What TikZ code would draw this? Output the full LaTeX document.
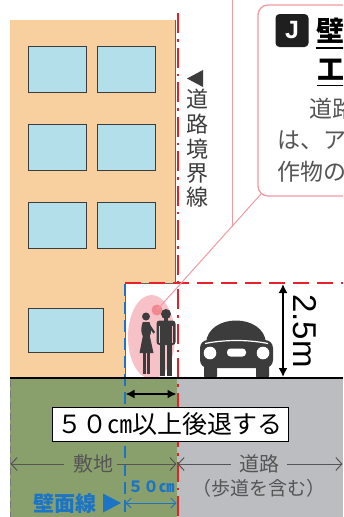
\documentclass[tikz,border=0pt]{standalone}
\usepackage{fontspec}
\setmainfont{Liberation Sans}
\newfontfamily\jp{Noto Sans CJK JP}
\usetikzlibrary{arrows.meta}

\definecolor{bldg}{HTML}{F8D0A0}
\definecolor{win}{HTML}{B3DFEA}
\definecolor{site}{HTML}{8AA06C}
\definecolor{road}{HTML}{BCBDC0}
\definecolor{bound}{HTML}{E8202A}
\definecolor{wall}{HTML}{1C74C4}
\definecolor{pinkln}{HTML}{F29AA2}
\definecolor{halo}{HTML}{F6C2C7}
\definecolor{dot}{HTML}{F08890}
\definecolor{ink}{HTML}{3C3C3C}
\definecolor{txt}{HTML}{555555}

\newcommand\fsz[1]{\fontsize{#1}{#1}\selectfont}

\begin{document}
\begin{tikzpicture}[x=1pt,y=-1pt,
  window/.style={fill=win,draw=ink,line width=0.9pt},
  jptext/.style={inner sep=0pt,font=\jp\fsz{#1}},
  jptext/.default=20,
  graydim/.style={draw=txt,line width=1pt,-{Straight Barb[length=6pt,width=13pt]}},
  bluedim/.style={draw=wall,line width=1pt,{Straight Barb[length=5pt,width=10pt]}-{Straight Barb[length=5pt,width=10pt]}},
  blackdim/.style={draw=black,line width=1.6pt,{Latex[length=9pt,width=9pt]}-{Latex[length=9pt,width=9pt]}},
  roadline/.style={draw=bound,line width=2pt},
]
\clip (0,0) rectangle (343,517);
\fill[white] (0,0) rectangle (343,517);

% building with the set-back ground floor
\fill[bldg] (10,20) -- (175,20) -- (175,283) -- (125,283) -- (125,378) -- (10,378) -- cycle;
\draw[ink!80,line width=0.8pt] (175,20) -- (175,283) -- (125,283) -- (125,378);
\draw[window] (28,46) rectangle (86,92);
\draw[window] (97,46) rectangle (155,92);
\draw[window] (28,124) rectangle (86,170);
\draw[window] (97,124) rectangle (155,170);
\draw[window] (28,202) rectangle (86,248);
\draw[window] (97,202) rectangle (155,248);
\draw[window] (28,308) rectangle (103,352);

% ground: site and road
\fill[site] (10,378) rectangle (177,517);
\fill[road] (177,378) rectangle (343,517);
\draw[ink!70,line width=0.7pt,dash pattern=on 7pt off 4pt] (10.5,380) -- (10.5,517);

% pedestrians under the set-back
\fill[halo] (151.5,337) ellipse [x radius=23.5,y radius=42];
\fill[dot] (157,310) circle (5.5);
% woman
\fill[ink] (146,316.5) circle (4);
\fill[ink] (142.8,322) .. controls (140.5,328) and (141,333) .. (142.8,336) -- (139.5,353) -- (153.5,353)
  -- (149.8,336) .. controls (151.5,333) and (151.5,328) .. (149.5,322) -- cycle;
\fill[ink] (149,323) -- (155,332) -- (153.5,333.5) -- (148.5,327) -- cycle;
\fill[ink] (143,352) rectangle (145.5,374);
\fill[ink] (147,352) rectangle (149.5,374);
% man
\fill[ink] (166,314) circle (5);
\fill[ink] (164.2,317) rectangle (167.8,322);
\fill[ink,rounded corners=3pt] (156.5,320.5) rectangle (175.5,345);
\draw[halo,line width=0.6pt] (159.5,326) -- (159.5,343);
\draw[halo,line width=0.6pt] (172.5,326) -- (172.5,343);
\fill[ink] (160,340) rectangle (165.4,376);
\fill[ink] (166.6,340) rectangle (172,376);

% car
\fill[ink] (206,343) .. controls (208,313) and (264,313) .. (266,343) -- cycle;
\fill[ink,rounded corners=8pt] (200,340) rectangle (273,368);
\draw[white,line width=1.2pt] (205,343.5) .. controls (225,339.5) and (248,339.5) .. (268,343.5);
\fill[white] (210,353) circle (6.3);
\fill[white] (263,353) circle (6.3);
\fill[white,rounded corners=3.5pt] (227,348.5) rectangle (246,356.5);
\fill[ink,rounded corners=2pt] (204,362) rectangle (217,378);
\fill[ink,rounded corners=2pt] (256,362) rectangle (269,378);

% road boundary line, height limit line and wall line
\draw[roadline,dash pattern=on 20pt off 6pt on 2.5pt off 6pt] (177.5,13) -- (177.5,517);
\draw[roadline,dash pattern=on 16pt off 8pt] (125,283) -- (343,283);
\draw[wall,line width=2pt,dash pattern=on 12pt off 6pt] (125,284) -- (125,517);

% ground surface
\draw[black,line width=2.6pt] (10,378) -- (343,378);

% 2.5 m clearance
\coordinate (hTop) at (283,284);
\coordinate (hBot) at (283,377);
\draw[blackdim] (hTop) -- (hBot);
\node[inner sep=0pt,rotate=-90,font=\fsz{33}] (hLbl) at (305,331) {2.5m};

% set-back of 50 cm
\coordinate (sbL) at (125.5,394);
\coordinate (sbR) at (176.5,394);
\draw[blackdim] (sbL) -- (sbR);
\node[draw=black,line width=1pt,fill=white,minimum width=236pt,minimum height=34pt,inner sep=0pt,
  font=\jp\fsz{25}] (setback) at (170,424) {５０㎝以上後退する};

% extent labels
\node[jptext=20,text=txt] (site) at (93,464) {敷地};
\coordinate (siteL) at (10.5,464);
\coordinate (siteR) at (176.5,464);
\draw[graydim] (site.west) ++(-9pt,0) -- (siteL);
\draw[graydim] (site.east) ++(4pt,0) -- (siteR);
\node[jptext=20,text=txt] (road) at (259,464) {道路};
\coordinate (roadL) at (177.5,464);
\coordinate (roadR) at (342.5,464);
\draw[graydim] (road.west) ++(-8pt,0) -- (roadL);
\draw[graydim] (road.east) ++(8pt,0) -- (roadR);
\node[jptext=19,text=txt] (walk) at (259,488) {（歩道を含む）};

% wall line marker
\node[jptext=15,text=wall,font=\jp\bfseries\fsz{15.5}] (fifty) at (151,487) {５０㎝};
\coordinate (wlL) at (125.5,503);
\coordinate (wlR) at (176.5,503);
\draw[bluedim] (wlL) -- (wlR);
\node[jptext=21,text=wall,font=\jp\bfseries\fsz{21}] (wallLbl) at (65.5,503) {壁面線};
\fill[wall] (103,493.5) -- (121,503) -- (103,512.5) -- cycle;

% road boundary label
\fill[ink] (187,78.5) -- (203,70) -- (203,87) -- cycle;
\foreach \c/\y [count=\i] in {道/99,路/124,境/149,界/174,線/197}
  \node[jptext=22,text=ink] (bl\i) at (197,\y) {\c};

% callout, running past the right edge
\draw[pinkln,line width=1pt] (232,0) -- (232,227);
\coordinate (pin) at (157,310);
\coordinate (tail) at (261,194);
\draw[pinkln,line width=1pt] (tail) -- (pin);
\draw[pinkln,line width=1.3pt,fill=white,rounded corners=10pt] (258,5) rectangle (370,196);
\node[fill=black!88,text=white,rounded corners=4pt,minimum width=33pt,minimum height=33pt,inner sep=0pt,
  font=\bfseries\fsz{25}] (tagJ) at (292,30.5) {J};
\node[anchor=west,jptext=28,font=\jp\bfseries\fsz{28}] (head1) at (316,31) {壁};
\draw[black,line width=1.6pt] (316,48) -- (345,48);
\node[anchor=west,jptext=27,font=\jp\bfseries\fsz{27}] (head2) at (317,70) {工};
\draw[black,line width=1.6pt] (317,85.5) -- (345,85.5);
\node[anchor=west,jptext=23,text=txt] (body1) at (309,109) {道路};
\node[anchor=west,jptext=23,text=txt] (body2) at (277,140) {は、ア};
\node[anchor=west,jptext=23,text=txt] (body3) at (277,172) {作物の};
\end{tikzpicture}
\end{document}
